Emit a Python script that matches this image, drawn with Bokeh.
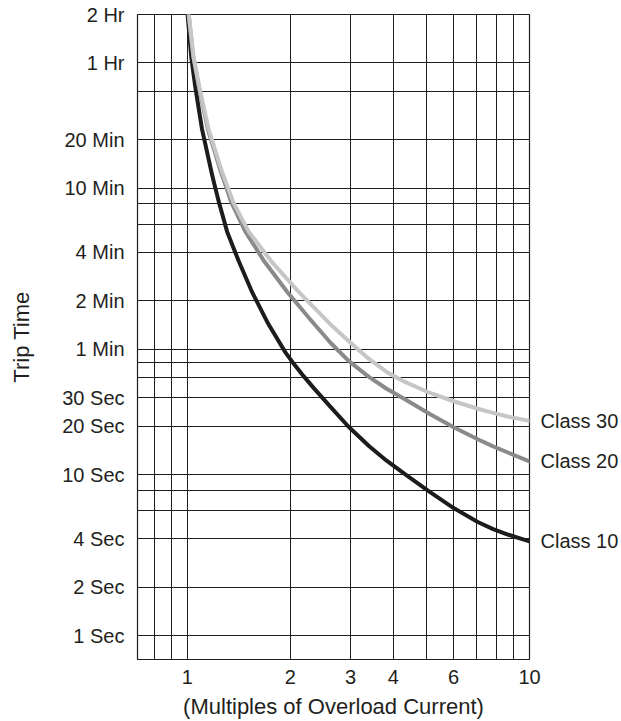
from bokeh.plotting import figure
from bokeh.models import FixedTicker, LogAxis, Range1d
from bokeh.embed import file_html
from bokeh.resources import INLINE

# ---- axis grid values and tick labels ----
x_grid = [0.8, 0.9, 1, 2, 3, 4, 5, 6, 7, 8, 9, 10]
x_labels = ["", "", "1", "2", "3", "4", "", "6", "", "", "", "10"]

y_grid = [1, 2, 4, 6, 8, 10, 20, 30, 40, 50, 60, 120, 240, 360, 480, 600,
          1200, 2400, 3600, 7200]
y_labels = ["1 Sec", "2 Sec", "4 Sec", "", "", "10 Sec", "20 Sec", "30 Sec",
            "", "", "1 Min", "2 Min", "4 Min", "", "", "10 Min", "20 Min",
            "", "1 Hr", "2 Hr"]

# ---- trip curves (multiples of overload current, trip time in seconds) ----
class10_x = [1.002, 1.027, 1.055, 1.104, 1.176, 1.198, 1.236, 1.307, 1.415,
             1.547, 1.715, 1.935, 2.047, 2.19, 2.342, 2.621, 2.96, 3.394,
             3.823, 4.325, 5.097, 6.003, 7.059, 7.827, 8.68, 10]
class10_y = [7200, 3923, 2557, 1398, 760, 644, 496, 323, 210.6, 135.9, 88.2,
             57.5, 48.8, 40.8, 34.5, 26.4, 19.86, 15.1, 12.23, 10.09, 7.86,
             6.21, 5.09, 4.6, 4.24, 3.86]

class20_x = [1.009, 1.041, 1.081, 1.148, 1.253, 1.288, 1.342, 1.478, 1.68,
             1.957, 2.265, 2.621, 2.96, 3.394, 3.823, 4.325, 5.097, 6.003,
             7.059, 7.827, 8.68, 10]
class20_y = [7200, 3923, 2557, 1398, 760, 644, 496, 323, 210.6, 136.7, 94.3,
             66.0, 50.9, 40.5, 34.2, 29.4, 23.9, 19.7, 16.6, 15.0, 13.7, 12.1]

class30_x = [1.01, 1.043, 1.084, 1.154, 1.263, 1.3, 1.36, 1.432, 1.512,
             1.762, 2.106, 2.621, 2.96, 3.394, 3.823, 4.325, 5.097, 6.003,
             7.059, 7.827, 8.68, 10]
class30_y = [7200, 3923, 2557, 1398, 760, 644, 496, 400.2, 323, 210.6, 138.2,
             85.7, 67.7, 52.4, 43.5, 37.7, 32.3, 28.6, 25.7, 24.2, 22.9, 21.6]

series_names = ["Class 10", "Class 20", "Class 30"]
series_colors = ["#1c1c1c", "#8a8a8a", "#c6c6c6"]

FONT = "Liberation Sans"
TXT = "#231f20"
GRID = "#1e1e1e"

p = figure(width=621, height=721,
           x_axis_type="log", y_axis_type="log",
           x_range=Range1d(0.7152, 10), y_range=Range1d(0.713, 7200),
           output_backend="svg", toolbar_location=None,
           min_border_left=137, min_border_right=92,
           min_border_top=14, min_border_bottom=60)

p.background_fill_color = "white"
p.border_fill_color = "white"
p.outline_line_color = GRID
p.outline_line_width = 1.2
p.outline_line_alpha = 1

# ticks & grids
p.xaxis.ticker = FixedTicker(ticks=x_grid)
p.yaxis.ticker = FixedTicker(ticks=y_grid)
p.xgrid.ticker = FixedTicker(ticks=x_grid)
p.ygrid.ticker = FixedTicker(ticks=y_grid)
p.xaxis.major_label_overrides = {float(v): t for v, t in zip(x_grid, x_labels)}
p.yaxis.major_label_overrides = {float(v): t for v, t in zip(y_grid, y_labels)}

for g in (p.xgrid, p.ygrid):
    g.grid_line_color = GRID
    g.grid_line_width = 1
    g.grid_line_alpha = 1

curves = [(class10_x, class10_y), (class20_x, class20_y), (class30_x, class30_y)]
for (xs, ys), color in zip(curves, series_colors):
    p.line(xs, ys, line_width=4, line_color=color, line_join="round",
           line_cap="round")

# curve names on the right, placed at each curve's end value
end_vals = [float(ys[-1]) for xs, ys in curves]
right = LogAxis(ticker=FixedTicker(ticks=end_vals),
                major_label_overrides={v: n for v, n in zip(end_vals, series_names)})
p.add_layout(right, "right")

for ax in (p.xaxis + p.yaxis):
    ax.axis_line_color = None
    ax.major_tick_line_color = None
    ax.minor_tick_line_color = None
    ax.major_tick_out = 0
    ax.major_tick_in = 0
    ax.minor_tick_out = 0
    ax.minor_tick_in = 0
    ax.major_label_text_font = FONT
    ax.major_label_text_font_size = "20px"
    ax.major_label_text_color = TXT
    ax.axis_label_text_font = FONT
    ax.axis_label_text_font_size = "22px"
    ax.axis_label_text_font_style = "normal"
    ax.axis_label_text_color = TXT

p.yaxis[0].major_label_standoff = 13
p.yaxis[0].axis_label = "Trip Time"
p.yaxis[0].axis_label_standoff = 25
right.major_label_standoff = 11
p.xaxis.major_label_standoff = 10
p.xaxis.axis_label = "(Multiples of Overload Current)"
p.xaxis.axis_label_standoff = 7

open("out.html", "w").write(file_html(p, INLINE))
